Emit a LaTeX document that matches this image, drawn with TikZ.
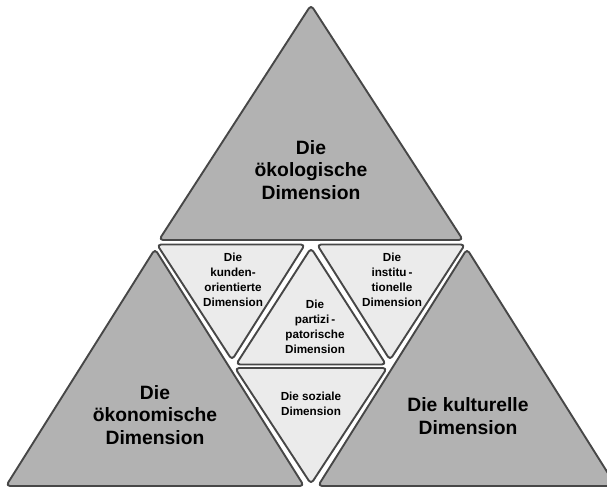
\documentclass[tikz,border=0pt]{standalone}
\usepackage{fontspec}
\setmainfont{Liberation Sans}
\begin{document}
\begin{tikzpicture}[x=1pt,y=-1pt,
  bigtri/.style={draw=black!72,line width=1.9pt,fill=black!30,rounded corners=4pt,line join=round},
  smalltri/.style={draw=black!72,line width=1.9pt,fill=black!8,rounded corners=4pt,line join=round},
  bigtext/.style={align=center,font=\fontsize{19.3}{22.5}\selectfont\bfseries,inner sep=0pt},
  smalltext/.style={align=center,font=\fontsize{11.7}{15}\selectfont\bfseries,inner sep=0pt}]
\useasboundingbox (0,0) rectangle (607,488);
\clip (0,0) rectangle (607,488);
% big triangles
\draw[bigtri] (311,5) -- (463,240) -- (159,240) -- cycle;
\draw[bigtri] (155,249) -- (304,486) -- (6,486) -- cycle;
\draw[bigtri] (467,249) -- (616,486) -- (318,486) -- cycle;
% small triangles
\draw[smalltri] (157,244.5) -- (305,244.5) -- (232,360) -- cycle;
\draw[smalltri] (317,244.5) -- (465,244.5) -- (390,360) -- cycle;
\draw[smalltri] (311,248) -- (386,364.5) -- (236,364.5) -- cycle;
\draw[smalltri] (235,368) -- (387,368) -- (311,484) -- cycle;
% texts
\node[bigtext] (oekol) at (311,170) {Die\\ökologische\\Dimension};
\node[bigtext] (oekon) at (155,415) {Die\\ökonomische\\Dimension};
\node[bigtext] (kult) at (468,416) {Die kulturelle\\Dimension};
\node[smalltext] (kund) at (233,280) {Die\\kunden-\\orientierte\\Dimension};
\node[smalltext] (inst) at (392,280) {Die\\institu\,-\\tionelle\\Dimension};
\node[smalltext] (part) at (315,327) {Die\\partizi\,-\\patorische\\Dimension};
\node[smalltext] (soz) at (311,404) {Die soziale\\Dimension};
\end{tikzpicture}
\end{document}
